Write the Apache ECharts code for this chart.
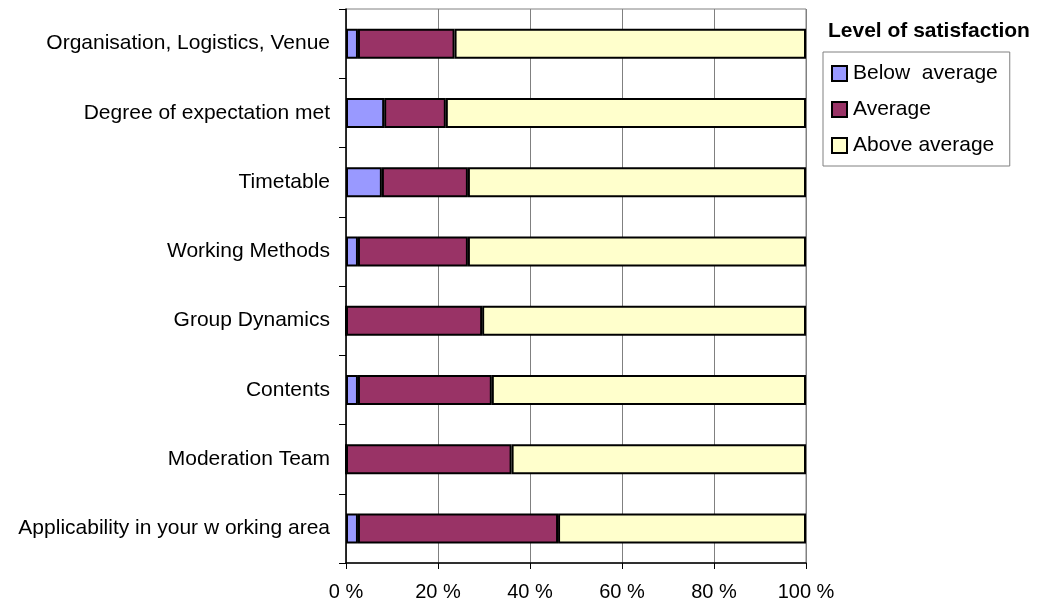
<!DOCTYPE html>
<html>
<head>
<meta charset="utf-8">
<script src="https://cdn.jsdelivr.net/npm/echarts@6/dist/echarts.min.js"></script>
<style>
  html, body { margin: 0; padding: 0; background: #fff; }
  #chart { width: 1049px; height: 605px; }
</style>
</head>
<body>
<div id="chart"></div>
<script>
// categories top to bottom
var categories = [
  "Organisation, Logistics, Venue",
  "Degree of expectation met",
  "Timetable",
  "Working Methods",
  "Group Dynamics",
  "Contents",
  "Moderation Team",
  "Applicability in your w orking area"
];
var belowAverage = [2.6, 8.3, 7.8, 2.6, 0, 2.6, 0, 2.6];
var average = [21.0, 13.4, 18.7, 23.9, 29.6, 29.1, 36.0, 43.5];
var aboveAverage = [76.4, 78.3, 73.5, 73.5, 70.4, 68.3, 64.0, 53.9];
var seriesNames = ["Below  average", "Average", "Above average"];

var FONT = "Liberation Sans, Arial, sans-serif";
var C = { blue: "#9999FF", plum: "#993366", cream: "#FFFFCC", grid: "#808080" };

var chart = echarts.init(document.getElementById("chart"));

function barSeries(name, data, color) {
  return {
    name: name,
    type: "bar",
    stack: "total",
    data: data,
    barWidth: 30,
    itemStyle: { color: color, borderColor: "#000", borderWidth: 2 },
    emphasis: { disabled: true }
  };
}

chart.setOption({
  animation: false,
  textStyle: { fontFamily: FONT },
  title: {
    text: "Level of satisfaction",
    left: 828,
    top: 21,
    padding: 0,
    textStyle: { fontFamily: FONT, fontSize: 21, fontWeight: "bold", color: "#000" }
  },
  legend: {
    orient: "vertical",
    left: 823,
    top: 52,
    padding: [11, 12, 10, 8],
    icon: "rect",
    itemWidth: 15,
    itemHeight: 15,
    itemGap: 15,
    borderColor: "#808080",
    borderWidth: 1,
    data: seriesNames,
    itemStyle: { borderColor: "#000", borderWidth: 2 },
    textStyle: { fontFamily: FONT, fontSize: 21, color: "#000", padding: [0, 0, 0, 1] }
  },
  grid: {
    left: 346,
    right: 243,
    top: 9,
    bottom: 42,
    show: true,
    borderColor: C.grid,
    borderWidth: 1
  },
  xAxis: {
    type: "value",
    min: 0,
    max: 100,
    interval: 20,
    axisLine: { show: true, lineStyle: { color: "#000", width: 1.5 } },
    axisTick: { show: true, length: 6, lineStyle: { color: "#000" } },
    axisLabel: {
      color: "#000",
      fontSize: 20,
      fontFamily: FONT,
      margin: 19,
      formatter: "{value} %"
    },
    splitLine: { show: true, lineStyle: { color: C.grid, width: 1 } }
  },
  yAxis: {
    type: "category",
    inverse: true,
    data: categories,
    axisLine: { show: true, lineStyle: { color: "#000", width: 1.5 } },
    axisTick: { show: true, length: 7, interval: 0, lineStyle: { color: "#000" } },
    axisLabel: { color: "#000", fontSize: 21, fontFamily: FONT, margin: 16 },
    splitLine: { show: false }
  },
  series: [
    barSeries(seriesNames[0], belowAverage, C.blue),
    barSeries(seriesNames[1], average, C.plum),
    barSeries(seriesNames[2], aboveAverage, C.cream)
  ]
});
</script>
</body>
</html>
